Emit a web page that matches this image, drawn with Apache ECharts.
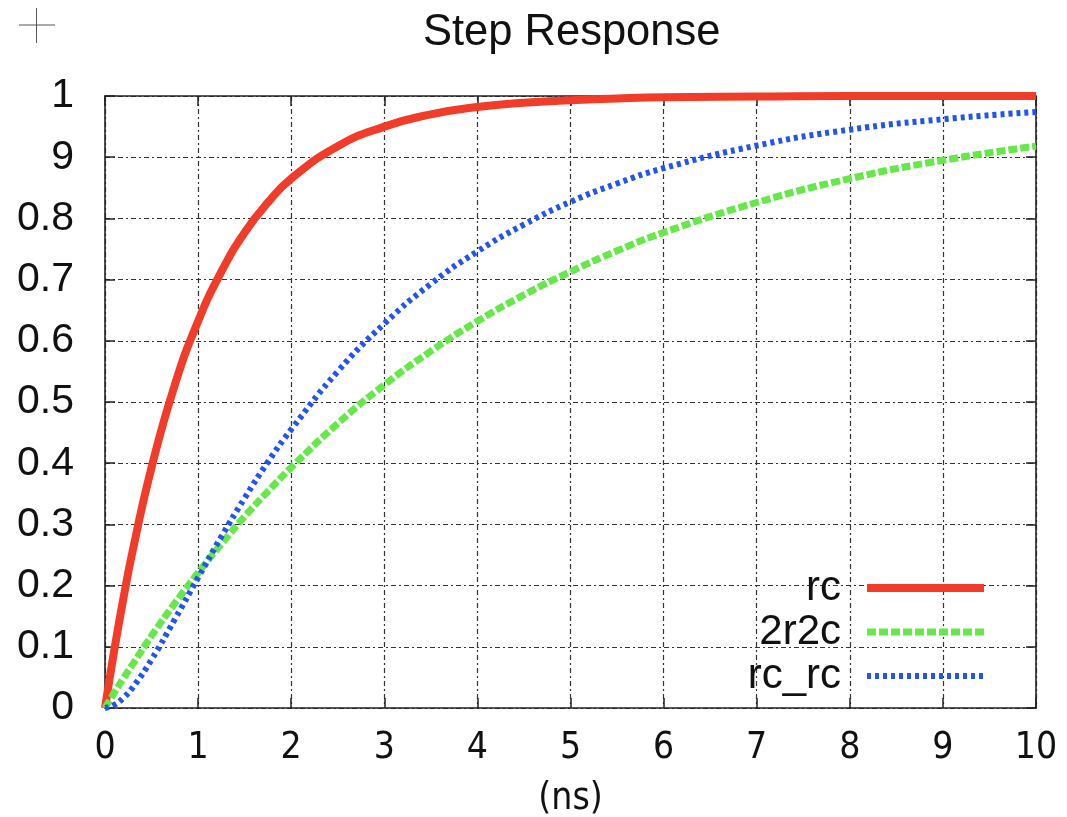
<!DOCTYPE html>
<html>
<head>
<meta charset="utf-8">
<script src="https://cdn.jsdelivr.net/npm/echarts@6/dist/echarts.min.js"></script>
<style>
html,body{margin:0;padding:0;background:#fff;}
#chart{width:1067px;height:817px;}
</style>
</head>
<body>
<div id="chart"></div>
<script>
// time points (ns)
const times = [0, 0.1, 0.2, 0.3, 0.5, 0.75, 1, 1.25, 1.5, 1.75, 2, 2.5, 3, 3.5, 4, 4.5, 5, 5.5, 6, 7, 8, 9, 10];
// series values
const rcValues = [0, 0.095, 0.181, 0.259, 0.393, 0.528, 0.632, 0.713, 0.777, 0.826, 0.865, 0.918, 0.950, 0.970, 0.982, 0.989, 0.993, 0.996, 0.998, 0.999, 1.0, 1.0, 1.0];
const r2c2Values = [0, 0.025, 0.049, 0.072, 0.118, 0.171, 0.221, 0.268, 0.313, 0.354, 0.393, 0.465, 0.528, 0.583, 0.632, 0.675, 0.713, 0.747, 0.777, 0.826, 0.865, 0.895, 0.918];
const rcrcValues = [0, 0.005, 0.017, 0.034, 0.079, 0.145, 0.213, 0.280, 0.343, 0.402, 0.455, 0.550, 0.628, 0.693, 0.746, 0.790, 0.827, 0.857, 0.882, 0.919, 0.945, 0.962, 0.974];
const seriesNames = ['rc', '2r2c', 'rc_rc'];
const yTickLabels = ['0', '0.1', '0.2', '0.3', '0.4', '0.5', '0.6', '0.7', '0.8', '9', '1'];
const xTickLabels = ['0', '1', '2', '3', '4', '5', '6', '7', '8', '9', '10'];

const toPairs = vals => times.map((t, i) => [t, vals[i]]);

const chart = echarts.init(document.getElementById('chart'), null, {renderer: 'canvas'});
const sans = 'Liberation Sans, Arial, sans-serif';
const xFont = 'DejaVu Sans Condensed, DejaVu Sans, sans-serif';
const gridLine = {show: true, lineStyle: {color: '#333', width: 1.2, type: [5, 3, 2, 3]}};
const tickStyle = {show: true, inside: true, length: 10, lineStyle: {color: '#222', width: 1.5}};
const axisLine = {show: true, onZero: false, lineStyle: {color: '#222', width: 1.6}};

const red = '#f03c28', green = '#66e84a', blue = '#2255ee';
const styles = [
  {color: red, width: 8, type: 'solid'},
  {color: green, width: 7, type: [9, 3]},
  {color: blue, width: 6, type: [4, 4]}
];
const hiddenSymbol = {color: 'rgba(0,0,0,0)', borderWidth: 0, opacity: 0};

chart.setOption({
  backgroundColor: '#fff',
  animation: false,
  title: {
    text: 'Step Response',
    left: 423,
    top: 11,
    padding: 0,
    textStyle: {fontFamily: sans, fontSize: 43.5, fontWeight: 'normal', color: '#111'}
  },
  graphic: [
    {type: 'line', shape: {x1: 19, y1: 25, x2: 55, y2: 25}, style: {stroke: '#555', lineWidth: 1}},
    {type: 'line', shape: {x1: 36.5, y1: 8, x2: 36.5, y2: 43}, style: {stroke: '#555', lineWidth: 1}}
  ],
  grid: {left: 105, right: 31, top: 96, bottom: 109, containLabel: false, outerBoundsMode: 'none'},
  legend: {
    orient: 'vertical',
    right: 79,
    top: 566,
    padding: 0,
    itemGap: 0,
    align: 'right',
    itemWidth: 117,
    itemHeight: 14,
    data: seriesNames.map((n, i) => ({
      name: n,
      itemStyle: hiddenSymbol,
      lineStyle: {color: styles[i].color, width: styles[i].width, type: styles[i].type}
    })),
    textStyle: {fontFamily: sans, fontSize: 42, color: '#111', width: 110, align: 'right', lineHeight: 44, padding: [0, 21, 0, 0]}
  },
  xAxis: [
    {
      type: 'value', min: 0, max: 10, interval: 1, position: 'bottom',
      name: '(ns)', nameLocation: 'middle', nameGap: 73,
      nameTextStyle: {fontFamily: xFont, fontSize: 37, color: '#111'},
      axisLine: axisLine, axisTick: tickStyle, splitLine: gridLine,
      axisLabel: {fontFamily: xFont, fontSize: 37, color: '#111', margin: 22,
        formatter: (v) => xTickLabels[Math.round(v)]}
    },
    {
      type: 'value', min: 0, max: 10, interval: 1, position: 'top',
      axisLine: axisLine, axisTick: tickStyle, splitLine: {show: false}, axisLabel: {show: false}
    }
  ],
  yAxis: [
    {
      type: 'value', min: 0, max: 1, interval: 0.1, position: 'left',
      axisLine: axisLine, axisTick: tickStyle, splitLine: gridLine,
      axisLabel: {fontFamily: sans, fontSize: 41, color: '#111', margin: 31,
        formatter: (v) => yTickLabels[Math.round(v * 10)]}
    },
    {
      type: 'value', min: 0, max: 1, interval: 0.1, position: 'right',
      axisLine: axisLine, axisTick: tickStyle, splitLine: {show: false}, axisLabel: {show: false}
    }
  ],
  series: [rcValues, r2c2Values, rcrcValues].map((vals, i) => ({
    name: seriesNames[i], type: 'line', data: toPairs(vals), smooth: true,
    symbol: 'none', showSymbol: false, clip: false, color: styles[i].color,
    lineStyle: {color: styles[i].color, width: styles[i].width, type: styles[i].type}
  }))
});
</script>
</body>
</html>
